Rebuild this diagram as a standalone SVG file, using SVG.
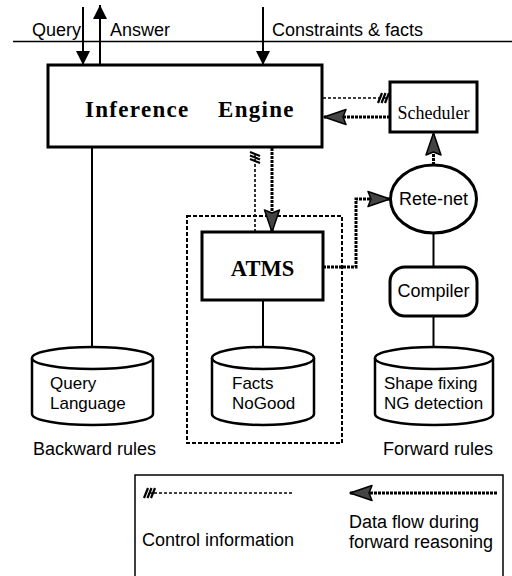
<svg xmlns="http://www.w3.org/2000/svg" width="512" height="576" viewBox="0 0 512 576">
<style>
.box{fill:#fff;stroke:#000;stroke-width:3}
.cyl{fill:#fff;stroke:#000;stroke-width:2.5}
.ln{fill:none;stroke:#000;stroke-width:2}
.ctl{fill:none;stroke:#000;stroke-width:1.6;stroke-dasharray:3 2}
.data{fill:none;stroke:#000;stroke-width:3;stroke-dasharray:3 1}
.sans{font-family:"Liberation Sans",Arial,sans-serif;font-size:18px;fill:#000}
.cl{font-size:17px}
.serif{font-family:"Liberation Serif","Times New Roman",serif;fill:#000}
</style>
<defs>
<marker id="dh" markerUnits="userSpaceOnUse" markerWidth="24" markerHeight="18" viewBox="0 0 24 18" refX="23" refY="9" orient="auto">
<path d="M1,1.5 L23,9 L1,16.5 L4,9 z" fill="#444" stroke="#000" stroke-width="1.5" stroke-linejoin="round"/>
</marker>
<marker id="ch" markerUnits="userSpaceOnUse" markerWidth="14" markerHeight="14" viewBox="0 -7 14 14" refX="12" refY="0" orient="auto" overflow="visible">
<path d="M2,5 L6,-5 M5.5,5 L9.5,-5 M9,5 L13,-5" fill="none" stroke="#000" stroke-width="2.2"/>
</marker>
<marker id="bh" markerUnits="userSpaceOnUse" markerWidth="14" markerHeight="14" viewBox="0 0 14 14" refX="14" refY="7" orient="auto">
<path d="M0,0 L14,7 L0,14 z" fill="#000"/>
</marker>
</defs>
<rect width="512" height="576" fill="#fff"/>

<g id="top-labels">
<line x1="13" y1="41.5" x2="512" y2="41.5" stroke="#000" stroke-width="1.5"/>
<text class="sans" x="32" y="36">Query</text>
<text class="sans" x="110" y="36">Answer</text>
<text class="sans" x="272" y="36">Constraints &amp; facts</text>
</g>

<g id="inference-engine">
<rect class="box" x="48" y="65" width="274" height="82"/>
<text class="serif" y="117" font-size="23" font-weight="bold" letter-spacing="1.3"><tspan x="85">Inference</tspan><tspan x="218">Engine</tspan></text>
</g>

<g id="scheduler">
<rect class="box" x="390" y="82" width="87" height="50"/>
<text class="serif" x="433.5" y="119" font-size="18" text-anchor="middle">Scheduler</text>
</g>

<g id="rete-net">
<ellipse cx="433.5" cy="199" rx="43" ry="34" fill="#fff" stroke="#000" stroke-width="3"/>
<text class="sans" x="433.5" y="205" text-anchor="middle">Rete-net</text>
</g>

<g id="compiler">
<rect class="box" x="390" y="267" width="87" height="49" rx="15"/>
<text class="sans" x="433.5" y="297" font-size="16" text-anchor="middle">Compiler</text>
</g>

<g id="atms-group">
<rect x="187" y="216" width="155" height="227" fill="none" stroke="#000" stroke-width="2" stroke-dasharray="4 2"/>
</g>

<g id="atms">
<rect class="box" x="202" y="232" width="121" height="68" stroke-width="3.5"/>
<text class="serif" x="262.5" y="276" font-size="22.5" font-weight="bold" text-anchor="middle">ATMS</text>
</g>

<g id="query-language">
<path class="cyl" d="M32,358 V414 A60.5,11 0 0 0 153,414 V358"/>
<ellipse class="cyl" cx="92.5" cy="358" rx="60.5" ry="11"/>
<text class="sans cl" x="50" y="389">Query</text>
<text class="sans cl" x="50" y="409">Language</text>
</g>

<g id="facts-nogood">
<path class="cyl" d="M212,358 V414 A51,11 0 0 0 314,414 V358"/>
<ellipse class="cyl" cx="263" cy="358" rx="51" ry="11"/>
<text class="sans cl" x="232" y="389">Facts</text>
<text class="sans cl" x="232" y="409">NoGood</text>
</g>

<g id="shape-fixing">
<path class="cyl" d="M375,358 V414 A59,11 0 0 0 493,414 V358"/>
<ellipse class="cyl" cx="434" cy="358" rx="59" ry="11"/>
<text class="sans cl" x="384" y="389">Shape fixing</text>
<text class="sans cl" x="384" y="409">NG detection</text>
</g>

<g id="section-labels">
<text class="sans" x="33" y="455">Backward rules</text>
<text class="sans" x="383" y="455">Forward rules</text>
</g>

<g id="connectors">
<line class="ln" x1="83" y1="7" x2="83" y2="65" marker-end="url(#bh)"/>
<line class="ln" x1="100" y1="65" x2="100" y2="5" marker-end="url(#bh)"/>
<line class="ln" x1="263" y1="7" x2="263" y2="65" marker-end="url(#bh)"/>
<line class="ln" x1="92" y1="147" x2="92" y2="347"/>
<line class="ln" x1="263" y1="300" x2="263" y2="347"/>
<line class="ln" x1="433.5" y1="233" x2="433.5" y2="267"/>
<line class="ln" x1="433.5" y1="316" x2="433.5" y2="347"/>
<line class="ctl" x1="323" y1="98" x2="388" y2="98" marker-end="url(#ch)"/>
<line class="ctl" x1="255" y1="232" x2="255" y2="153" marker-end="url(#ch)"/>
<line class="data" x1="390" y1="117" x2="324" y2="117" marker-end="url(#dh)"/>
<line class="data" x1="433.5" y1="165" x2="433.5" y2="133" marker-end="url(#dh)"/>
<line class="data" x1="272" y1="148" x2="272" y2="232" marker-end="url(#dh)"/>
<path class="data" d="M323,267 H356 V199 H390" marker-end="url(#dh)"/>
</g>

<g id="legend">
<rect x="135" y="475" width="368" height="115" fill="none" stroke="#000" stroke-width="1.5"/>
<line class="ctl" x1="292" y1="493" x2="145" y2="493" marker-end="url(#ch)"/>
<line class="data" x1="497" y1="493" x2="350" y2="493" marker-end="url(#dh)"/>
<text class="sans" x="142" y="546">Control information</text>
<text class="sans" x="349" y="528">Data flow during</text>
<text class="sans" x="349" y="548">forward reasoning</text>
</g>
</svg>
